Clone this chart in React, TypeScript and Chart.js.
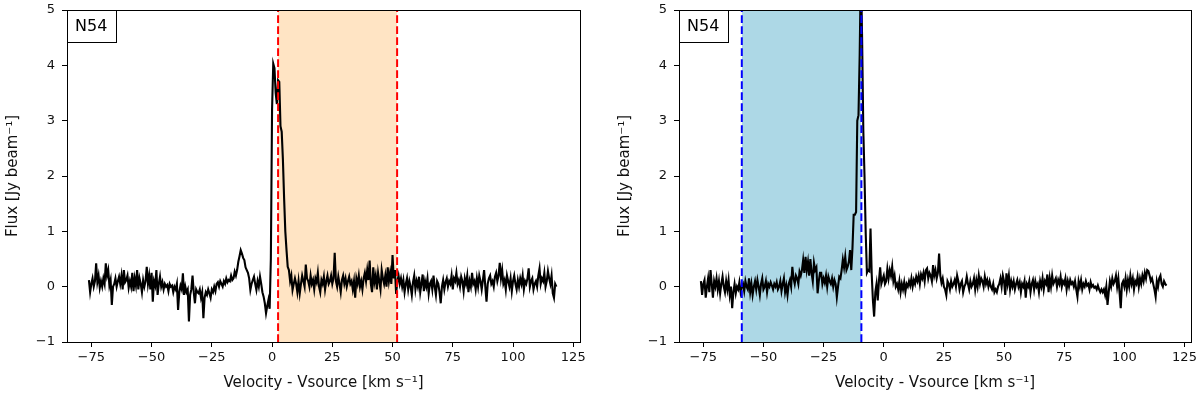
import React, { useEffect, useRef } from 'react';
import { Chart, registerables } from 'chart.js';
Chart.register(...registerables);

// ---- data ----
const V_START = -76;
const V_STEP = 0.5;

// Left panel spectrum (flux, Jy/beam), channels from -76 km/s in 0.5 km/s steps
const leftFlux = [
  0.12, -0.1, 0.05, 0.15, 0.0, 0.1, 0.42, 0.08, 0.2, -0.02, 0.1, 0.0, 0.15, 0.05, 0.42, 0.2, 0.3, 0.02, 0.12, -0.33,
  0.0, 0.05, 0.15, 0.0, 0.1, 0.18, 0.05, 0.2, -0.05, 0.3, 0.08, 0.12, 0.2, -0.02, 0.1, 0.0, 0.25, -0.08, 0.15, 0.02,
  0.3, -0.05, 0.15, 0.05, -0.1, 0.12, 0.0, 0.1, 0.36, 0.05, 0.2, -0.05, 0.25, -0.27, 0.1, 0.02, 0.3, -0.15, 0.05, 0.18,
  0.0, 0.08, -0.05, 0.05, 0.0, 0.03, -0.08, 0.05, 0.0, 0.02, -0.1, 0.0, -0.05, 0.05, -0.42, -0.1, 0.02, -0.05, 0.24, -0.15,
  0.0, -0.1, -0.05, -0.63, -0.15, -0.05, 0.2, -0.1, -0.3, -0.05, -0.1, -0.12, -0.05, -0.2, -0.1, -0.57, -0.2, -0.1, -0.15, -0.05,
  -0.12, -0.2, -0.05, -0.1, 0.0, -0.08, 0.05, 0.08, 0.0, 0.1, 0.05, 0.0, 0.1, 0.05, 0.15, 0.08, 0.12, 0.1, 0.2, 0.12,
  0.15, 0.27, 0.2, 0.3, 0.45, 0.55, 0.66, 0.6, 0.52, 0.48, 0.35, 0.3, 0.25, 0.15, -0.06, 0.05, 0.12, 0.18, 0.05, -0.06,
  0.1, 0.0, 0.18, 0.05, -0.1, -0.18, -0.3, -0.48, -0.35, -0.24, -0.4, 0.5, 3.2, 4.03, 3.95, 3.5, 3.3, 3.73, 3.7, 2.9,
  2.8, 2.3, 1.6, 1.0, 0.66, 0.36, 0.3, 0.1, 0.2, -0.06, 0.05, 0.15, 0.05, -0.1, 0.1, -0.12, 0.05, 0.2, 0.1, 0.0,
  0.4, 0.15, 0.1, 0.0, 0.2, 0.05, 0.12, -0.05, 0.15, 0.08, 0.25, 0.0, -0.1, 0.12, 0.05, 0.18, -0.05, 0.1, 0.2, 0.05,
  0.1, 0.2, 0.05, 0.15, 0.61, 0.1, 0.0, 0.18, 0.05, -0.1, 0.12, 0.2, 0.05, 0.15, 0.0, 0.1, 0.18, 0.05, 0.1, -0.05,
  0.1, -0.2, 0.15, 0.05, 0.2, 0.0, 0.1, -0.05, 0.15, 0.25, 0.1, 0.3, 0.12, 0.47, 0.05, -0.1, 0.35, 0.08, 0.2, -0.05,
  0.25, 0.1, -0.05, 0.3, 0.15, 0.05, 0.2, 0.0, 0.35, 0.1, 0.25, 0.05, 0.57, 0.15, 0.3, -0.13, 0.1, 0.2, 0.05, 0.15,
  0.0, 0.12, -0.1, 0.05, 0.15, -0.05, 0.1, 0.0, -0.15, 0.08, 0.2, -0.05, 0.1, 0.0, 0.18, -0.1, 0.05, 0.22, -0.08, 0.1,
  0.0, 0.15, -0.12, 0.05, 0.1, -0.05, 0.2, 0.0, -0.15, 0.1, 0.05, -0.1, -0.3, 0.0, 0.12, -0.05, 0.08, 0.15, 0.0, 0.1,
  0.05, 0.2, -0.05, 0.15, 0.1, 0.25, 0.05, 0.12, 0.0, 0.18, 0.1, -0.08, 0.15, 0.05, 0.2, -0.1, 0.1, 0.0, 0.25, 0.05,
  0.1, -0.05, 0.15, 0.0, 0.2, 0.1, -0.05, 0.12, 0.3, 0.0, -0.27, 0.05, 0.15, 0.2, 0.05, 0.1, 0.0, 0.18, 0.25, 0.1,
  0.2, 0.43, 0.15, 0.3, 0.05, 0.12, -0.05, 0.2, 0.1, 0.0, 0.15, -0.08, 0.1, 0.2, 0.05, -0.05, 0.12, 0.0, 0.15, 0.05,
  0.2, -0.05, 0.1, 0.05, 0.15, 0.33, 0.0, 0.1, 0.15, -0.05, 0.05, 0.1, 0.0, 0.2, 0.33, 0.05, 0.15, 0.1, 0.25, 0.0,
  0.1, 0.28, 0.15, 0.05, 0.2, -0.12, -0.2, 0.05, 0.0,
];

// Right panel spectrum (flux, Jy/beam), same channel grid
const rightFlux = [
  0.1, -0.15, 0.05, 0.12, -0.2, 0.0, 0.15, -0.1, 0.3, 0.05, -0.2, 0.1, 0.0, 0.15, -0.05, 0.1, -0.12, 0.05, 0.18, 0.0,
  -0.1, 0.1, -0.05, 0.12, -0.15, 0.0, -0.39, -0.1, 0.05, -0.12, 0.0, -0.05, 0.08, -0.1, 0.0, 0.05, -0.08, 0.1, 0.0, -0.05,
  0.15, -0.1, 0.05, -0.15, 0.0, 0.1, -0.05, 0.12, 0.0, -0.15, 0.05, 0.15, -0.05, 0.0, 0.1, -0.1, 0.05, 0.0, 0.08, 0.02,
  -0.05, 0.05, 0.0, 0.08, -0.05, 0.0, 0.1, -0.08, 0.05, 0.15, -0.1, 0.02, -0.15, 0.05, 0.12, 0.0, 0.36, 0.15, 0.05, 0.2,
  0.15, 0.05, 0.27, 0.2, 0.3, 0.48, 0.25, 0.54, 0.3, 0.45, 0.2, 0.5, 0.25, 0.1, 0.43, 0.3, 0.35, -0.12, 0.1, 0.25,
  0.25, 0.05, 0.15, 0.07, 0.2, 0.0, 0.18, 0.1, 0.05, 0.15, 0.0, 0.12, 0.05, -0.19, 0.0, 0.18, 0.15, 0.3, 0.49, 0.35,
  0.54, 0.3, 0.36, 0.45, 0.66, 0.3, 0.7, 1.3, 1.3, 1.35, 3.0, 3.1, 4.2, 5.8, 4.5, 2.83, 2.0, 0.97, 0.25, 0.3,
  0.28, 1.05, 0.22, -0.25, -0.54, -0.1, 0.05, -0.25, 0.1, 0.35, 0.05, 0.13, 0.2, 0.05, 0.1, 0.32, 0.15, 0.3, 0.2, 0.36,
  0.1, 0.2, 0.0, 0.05, -0.05, 0.1, -0.1, 0.05, -0.05, 0.08, -0.09, 0.05, 0.0, 0.1, 0.02, 0.15, 0.0, 0.12, 0.05, 0.18,
  0.1, 0.2, 0.05, 0.22, 0.15, 0.25, 0.1, 0.3, 0.33, 0.15, 0.25, 0.2, 0.1, 0.39, 0.2, 0.3, 0.15, 0.25, 0.6, 0.2,
  0.07, 0.15, 0.0, -0.05, -0.15, 0.1, 0.05, -0.05, 0.1, 0.0, 0.05, 0.12, 0.0, 0.2, 0.1, -0.05, 0.05, 0.1, -0.1, 0.0,
  0.05, 0.18, 0.05, -0.05, 0.1, 0.0, 0.05, 0.15, -0.05, 0.12, 0.0, 0.2, 0.05, 0.15, 0.1, 0.0, 0.18, 0.05, 0.12, 0.0,
  0.1, 0.0, -0.05, 0.05, -0.1, -0.05, -0.1, 0.0, 0.05, 0.15, 0.0, 0.2, 0.1, -0.15, 0.24, 0.05, 0.2, -0.05, 0.1, 0.0,
  0.1, -0.05, 0.05, 0.12, 0.0, 0.08, -0.1, 0.05, 0.0, 0.1, -0.2, 0.05, 0.0, 0.1, -0.1, 0.05, 0.12, -0.05, 0.1, 0.0,
  0.05, -0.1, 0.1, 0.0, 0.15, -0.05, 0.1, 0.05, 0.22, -0.1, 0.15, 0.0, 0.2, 0.05, 0.1, 0.15, 0.0, 0.12, 0.05, 0.18,
  0.0, 0.1, 0.05, 0.15, -0.05, 0.1, 0.0, 0.12, 0.05, 0.08, 0.0, 0.1, -0.05, -0.18, 0.1, 0.0, 0.12, -0.05, 0.05, 0.0,
  0.1, 0.02, 0.05, -0.05, 0.08, 0.0, 0.03, -0.02, 0.0, -0.05, 0.02, -0.05, -0.1, -0.05, -0.1, -0.05, -0.15, 0.0, -0.33, -0.1,
  0.1, 0.0, 0.15, 0.05, 0.1, 0.2, 0.0, 0.15, -0.1, -0.39, 0.05, 0.1, 0.0, 0.15, -0.05, 0.12, 0.0, 0.2, 0.05, 0.15,
  -0.05, 0.1, 0.05, 0.18, 0.0, 0.15, 0.05, 0.2, 0.1, 0.25, 0.15, 0.3, 0.28, 0.2, 0.1, 0.15, 0.05, -0.05, -0.18, 0.1,
  0.0, 0.15, 0.2, 0.05, 0.0, 0.1, 0.05, 0.02,
];

const leftBand = [2.5, 51.9];
const rightBand = [-59.0, -9.3];
const xTicks = [-75, -50, -25, 0, 25, 50, 75, 100, 125];
const yTicks = [-1, 0, 1, 2, 3, 4, 5];
const xRange = [-85.1, 127.8];
const yRange = [-1, 5];
const panelLabel = 'N54';
const xTitle = 'Velocity - Vsource [km s\u207B\u00B9]';
const yTitle = 'Flux [Jy beam\u207B\u00B9]';

const FONT = 'DejaVu Sans';
const TEXT = '#111';

const fmt = (v: number) => String(v).replace('-', '\u2212');

const framePlugin = {
  id: 'frame',
  afterDraw(chart: any) {
    const { ctx, chartArea } = chart;
    const { left, top, right, bottom } = chartArea;
    ctx.save();
    ctx.strokeStyle = '#000';
    ctx.lineWidth = 1;
    ctx.strokeRect(Math.round(left) + 0.5, Math.round(top) + 0.5, Math.round(right - left), Math.round(bottom - top));
    // anchored label box
    const bw = 49, bh = 32;
    ctx.fillStyle = '#fff';
    ctx.fillRect(Math.round(left) + 0.5, Math.round(top) + 0.5, bw, bh);
    ctx.strokeRect(Math.round(left) + 0.5, Math.round(top) + 0.5, bw, bh);
    ctx.fillStyle = '#000';
    ctx.font = `16px "${FONT}"`;
    ctx.textBaseline = 'middle';
    ctx.textAlign = 'left';
    ctx.fillText(panelLabel, left + 8, top + 17);
    ctx.restore();
  },
};

function makeConfig(flux: number[], band: number[], bandColor: string, lineColor: string, pad: any, yWidth: number) {
  const spectrum = flux.map((y, i) => ({ x: V_START + i * V_STEP, y }));
  const vline = (x: number) => ({
    data: [{ x, y: yRange[0] }, { x, y: yRange[1] }],
    borderColor: lineColor,
    borderWidth: 2,
    borderDash: [7.7, 3.3],
    pointRadius: 0,
    fill: false,
  });
  return {
    type: 'line' as const,
    data: {
      datasets: [
        vline(band[0]),
        vline(band[1]),
        {
          data: spectrum,
          borderColor: '#000',
          borderWidth: 2.1,
          pointRadius: 0,
          tension: 0,
          fill: false,
        },
        {
          data: [{ x: band[0], y: yRange[1] }, { x: band[1], y: yRange[1] }],
          borderWidth: 0,
          borderColor: 'rgba(0,0,0,0)',
          backgroundColor: bandColor,
          pointRadius: 0,
          fill: 'start',
        },
      ],
    },
    options: {
      responsive: false,
      animation: false,
      events: [],
      layout: { padding: pad },
      plugins: { legend: { display: false }, tooltip: { enabled: false } },
      scales: {
        x: {
          type: 'linear',
          min: xRange[0],
          max: xRange[1],
          afterBuildTicks: (s: any) => { s.ticks = xTicks.map((v) => ({ value: v })); },
          afterFit: (s: any) => { s.height = 54; },
          border: { display: false },
          grid: { drawOnChartArea: false, drawTicks: true, tickLength: 5, color: '#000', lineWidth: 1 },
          ticks: { color: TEXT, padding: 3, maxRotation: 0, autoSkip: false, font: { family: FONT, size: 13 }, callback: (v: any) => fmt(v) },
          title: { display: true, text: xTitle, color: TEXT, font: { family: FONT, size: 15 }, padding: { top: 4, bottom: 4 } },
        },
        y: {
          type: 'linear',
          min: yRange[0],
          max: yRange[1],
          afterBuildTicks: (s: any) => { s.ticks = yTicks.map((v) => ({ value: v })); },
          afterFit: (s: any) => { s.width = yWidth; s.paddingTop = 0; s.paddingBottom = 0; },
          border: { display: false },
          grid: { drawOnChartArea: false, drawTicks: true, tickLength: 5, color: '#000', lineWidth: 1 },
          ticks: { color: TEXT, padding: 7, autoSkip: false, font: { family: FONT, size: 13 }, callback: (v: any) => fmt(v) },
          title: { display: true, text: yTitle, color: TEXT, font: { family: FONT, size: 15 }, padding: { top: 4, bottom: 4 } },
        },
      },
    },
    plugins: [framePlugin],
  };
}

function Panel({ flux, band, bandColor, lineColor, pad, left, yWidth }: any) {
  const ref = useRef<HTMLCanvasElement>(null);
  useEffect(() => {
    const chart = new Chart(ref.current as HTMLCanvasElement, makeConfig(flux, band, bandColor, lineColor, pad, yWidth) as any);
    return () => chart.destroy();
  }, []);
  return (
    <div style={{ position: 'absolute', left, top: 0, width: 600, height: 398 }}>
      <canvas ref={ref} width={600} height={398} style={{ width: 600, height: 398, display: 'block' }} />
    </div>
  );
}

export default function App() {
  return (
    <div style={{ position: 'fixed', left: 0, top: 0, width: 1200, height: 398, background: '#fff' }}>
      <Panel flux={leftFlux} band={leftBand} bandColor="#ffe4c4" lineColor="#ff0000" pad={{ left: 0, right: 20, top: 10, bottom: 2 }} left={0} yWidth={67} />
      <Panel flux={rightFlux} band={rightBand} bandColor="#add8e6" lineColor="#0000ff" pad={{ left: 12, right: 7, top: 10, bottom: 2 }} left={600} yWidth={67} />
    </div>
  );
}
